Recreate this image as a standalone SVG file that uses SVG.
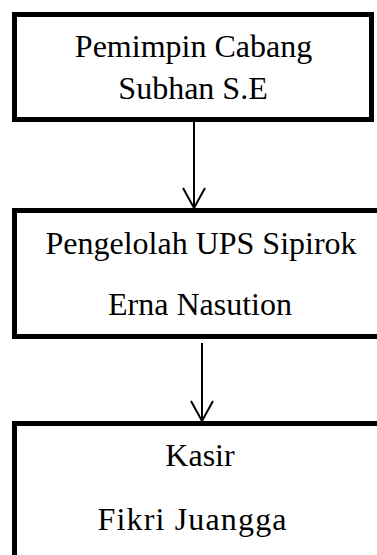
<svg xmlns="http://www.w3.org/2000/svg" width="377" height="555" viewBox="0 0 377 555">
<style>
.box{fill:#fff;stroke:#000;stroke-width:5}
.t{font-family:"Liberation Serif","Times New Roman",serif;font-size:32px;fill:#000;text-anchor:middle}
.c{stroke:#000;stroke-width:2;fill:none}
</style>
<defs>
<marker id="ah" markerUnits="userSpaceOnUse" markerWidth="24" markerHeight="26" refX="21" refY="12" orient="auto" viewBox="0 0 24 26">
<path d="M1 1 L21 12 L1 23" fill="none" stroke="#000" stroke-width="2"/>
</marker>
</defs>
<g id="node-pemimpin">
<rect class="box" x="14.5" y="14.5" width="357" height="105"/>
<text class="t" x="193.5" y="57">Pemimpin Cabang</text>
<text class="t" x="193" y="99">Subhan S.E</text>
</g>
<g id="node-pengelolah">
<rect class="box" x="14.5" y="210.5" width="380" height="126"/>
<text class="t" x="201" y="254">Pengelolah UPS Sipirok</text>
<text class="t" x="200" y="315">Erna Nasution</text>
</g>
<g id="node-kasir">
<rect class="box" x="14.5" y="423.5" width="380" height="150"/>
<text class="t" x="200" y="466">Kasir</text>
<text class="t" x="192" y="530" textLength="189" lengthAdjust="spacing">Fikri Juangga</text>
</g>
<g id="connectors">
<line class="c" x1="194" y1="122" x2="194" y2="208" marker-end="url(#ah)"/>
<line class="c" x1="202" y1="343" x2="202" y2="421" marker-end="url(#ah)"/>
</g>
</svg>
